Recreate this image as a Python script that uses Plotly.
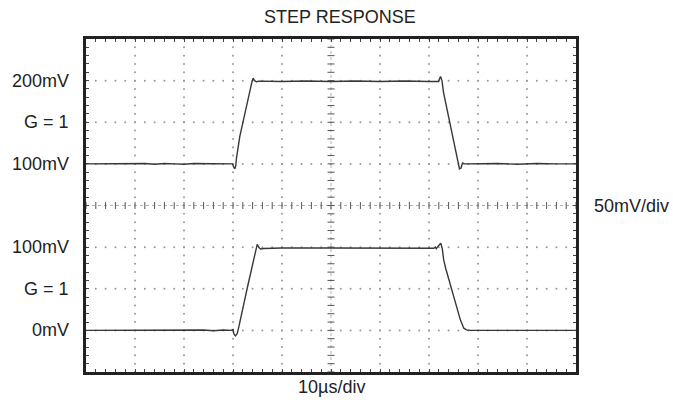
import numpy as np
import plotly.graph_objects as go

# ---------------- data (time in µs, voltage in mV) ----------------
t_top = [0, 8, 12, 14, 16, 18, 20, 22, 25, 28, 29.9, 30.16, 30.37, 30.57, 30.71,
         31.39, 32.6, 33.92, 34.12, 34.4, 34.8, 35.3, 40, 45, 50, 55, 60, 65, 70,
         71.94, 72.35, 72.65, 72.96, 76.02, 76.22, 76.53, 76.84, 77.24, 80, 84,
         88, 92, 96, 100]
v_top = [100, 100, 100.5, 99.5, 100.5, 100, 99.5, 100.5, 100, 100, 100, 96, 94,
         98, 107, 133, 167, 200, 202.8, 200, 198.6, 199.4, 199, 199.5, 199, 199.5,
         199, 199.5, 199, 199, 205, 200, 186, 96, 94, 95, 101, 100, 100, 100.5,
         99.5, 100.5, 100, 100]

t_bot = [0, 10, 20, 24, 26, 28, 29.6, 30.0, 30.16, 30.5, 30.85, 31.2, 32.9, 34.8,
         34.94, 35.27, 35.6, 36.3, 40, 50, 60, 70, 70.98, 71.3, 71.5, 71.9, 72.2,
         72.4, 72.7, 73.0, 73.4, 75.06, 76.4, 77.1, 77.65, 78.5, 85, 90, 100]
v_bot = [0, 0, 0, 0.5, -0.5, 0.5, 0, 1, -4, -6.6, -4, 4.6, 50.6, 101.4, 103.4,
         99.8, 97.8, 98.4, 99, 99, 99, 99, 98.6, 100, 98, 101.4, 103.8, 104.6,
         98.6, 84.6, 74.6, 40.6, 12.6, 2.6, 0.6, 0, 0, 0, 0]

# screen offsets (mV on the 8-division screen, 50 mV/div)
TOP_OFFSET = 150
BOT_OFFSET = 50

# axis labels
label_vals = [350, 300, 250, 150, 100, 50]
label_text = ["200mV", "G = 1", "100mV", "100mV", "G = 1", "0mV"]
title_text = "STEP RESPONSE"
x_label = "10\u00b5s/div"
y_label = "50mV/div"

# ---------------- screen geometry ----------------
X_RANGE = (0, 100)
Y_RANGE = (0, 400)
x_major = np.arange(X_RANGE[0], X_RANGE[1] + 0.01, 10)
y_major = np.arange(Y_RANGE[0], Y_RANGE[1] + 0.01, 50)
x_minor = np.arange(X_RANGE[0], X_RANGE[1] + 0.01, 2)
y_minor = np.arange(Y_RANGE[0], Y_RANGE[1] + 0.01, 10)
x_mid = (X_RANGE[0] + X_RANGE[1]) / 2
y_mid = (Y_RANGE[0] + Y_RANGE[1]) / 2

FONT = "Liberation Sans, Arial, sans-serif"
TXT = "#222222"

fig = go.Figure()

# dotted graticule
gx, gy = [], []
for xv in x_major[1:-1]:
    if xv == x_mid:
        continue
    gx += list(np.full(len(y_minor), xv)); gy += list(y_minor)
for yv in y_major[1:-1]:
    if yv == y_mid:
        continue
    gx += list(x_minor); gy += list(np.full(len(x_minor), yv))
fig.add_trace(go.Scatter(x=gx, y=gy, mode="markers",
                         marker=dict(size=2, color="#999999"),
                         hoverinfo="skip", showlegend=False))

# center crosshair
fig.add_trace(go.Scatter(x=list(X_RANGE), y=[y_mid, y_mid], mode="lines",
                         line=dict(color="#b0b0b0", width=1, dash="dot"),
                         hoverinfo="skip", showlegend=False))
fig.add_trace(go.Scatter(x=[x_mid, x_mid], y=list(Y_RANGE), mode="lines",
                         line=dict(color="#b0b0b0", width=1, dash="dot"),
                         hoverinfo="skip", showlegend=False))
fig.add_trace(go.Scatter(x=x_minor, y=np.full(len(x_minor), y_mid), mode="markers",
                         marker=dict(symbol="line-ns", size=5,
                                     line=dict(color="#555555", width=1)),
                         hoverinfo="skip", showlegend=False))
fig.add_trace(go.Scatter(x=np.full(len(y_minor), x_mid), y=y_minor, mode="markers",
                         marker=dict(symbol="line-ew", size=5,
                                     line=dict(color="#555555", width=1)),
                         hoverinfo="skip", showlegend=False))

# signal traces
fig.add_trace(go.Scatter(x=t_top, y=[v + TOP_OFFSET for v in v_top], mode="lines",
                         line=dict(color="#383838", width=1.4),
                         showlegend=False))
fig.add_trace(go.Scatter(x=t_bot, y=[v + BOT_OFFSET for v in v_bot], mode="lines",
                         line=dict(color="#383838", width=1.4),
                         showlegend=False))

axis_common = dict(showgrid=False, zeroline=False, showline=True, linewidth=2.5,
                   linecolor="#222222", mirror="allticks", ticks="inside",
                   ticklen=3, tickwidth=1, tickcolor="#444444",
                   showticklabels=False)
fig.update_xaxes(range=list(X_RANGE), tickvals=x_minor, **axis_common)
fig.update_yaxes(range=list(Y_RANGE), tickvals=y_minor, **axis_common)

annotations = []
for yv, txt in zip(label_vals, label_text):
    annotations.append(dict(x=0, xref="paper", y=yv, yref="y", text=txt,
                            showarrow=False, xanchor="right", yanchor="middle",
                            xshift=-15, font=dict(family=FONT, size=18, color=TXT)))
annotations.append(dict(x=1, xref="paper", y=y_mid, yref="y", text=y_label,
                        showarrow=False, xanchor="left", yanchor="middle",
                        xshift=16, font=dict(family=FONT, size=18, color=TXT)))
annotations.append(dict(x=0.5, xref="paper", y=0, yref="paper", text=x_label,
                        showarrow=False, xanchor="center", yanchor="middle",
                        yshift=-15, font=dict(family=FONT, size=18, color=TXT)))
annotations.append(dict(x=(340 - 86) / 490, xref="paper", y=1, yref="paper",
                        text=title_text, showarrow=False, xanchor="center",
                        yanchor="middle", yshift=22,
                        font=dict(family=FONT, size=18, color=TXT)))

fig.update_layout(width=673, height=410, margin=dict(l=86, r=97, t=39, b=38),
                  paper_bgcolor="white", plot_bgcolor="white",
                  annotations=annotations, showlegend=False)

fig.write_html("out.html",
               config={"displayModeBar": False},
               post_script="document.body.style.margin='0';"
                           "document.body.style.overflow='hidden';")
